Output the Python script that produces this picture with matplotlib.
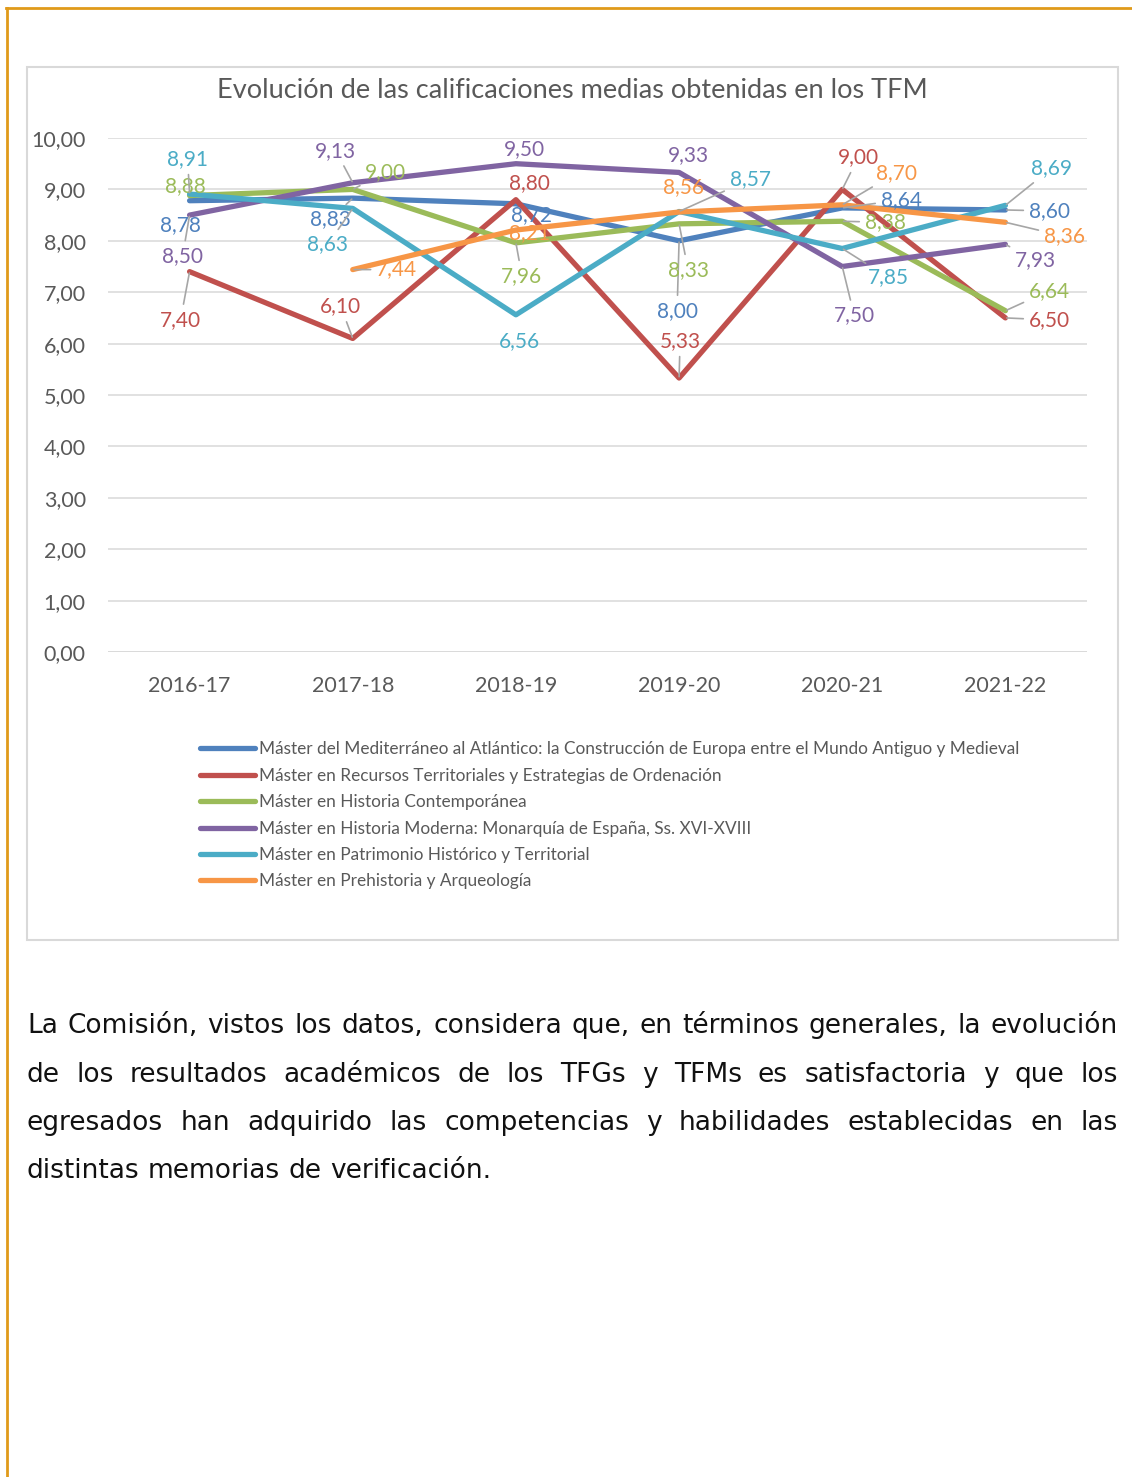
import matplotlib

matplotlib.use("Agg")

import matplotlib.pyplot as plt
import numpy as np
from matplotlib.lines import Line2D
from matplotlib.patches import Rectangle

W, H = 1132, 1477

years = ["2016-17", "2017-18", "2018-19", "2019-20", "2020-21", "2021-22"]

series_names = [
    "Máster del Mediterráneo al Atlántico: la Construcción de Europa entre el Mundo Antiguo y Medieval",
    "Máster en Recursos Territoriales y Estrategias de Ordenación",
    "Máster en Historia Contemporánea",
    "Máster en Historia Moderna: Monarquía de España, Ss. XVI-XVIII",
    "Máster en Patrimonio Histórico y Territorial",
    "Máster en Prehistoria y Arqueología",
]

mediterraneo = [8.78, 8.83, 8.72, 8.00, 8.64, 8.60]
recursos = [7.40, 6.10, 8.80, 5.33, 9.00, 6.50]
contemporanea = [8.88, 9.00, 7.96, 8.33, 8.38, 6.64]
moderna = [8.50, 9.13, 9.50, 9.33, 7.50, 7.93]
patrimonio = [8.91, 8.63, 6.56, 8.57, 7.85, 8.69]
prehistoria = [np.nan, 7.44, 8.21, 8.56, 8.70, 8.36]

all_series = [mediterraneo, recursos, contemporanea, moderna, patrimonio, prehistoria]
colors = ["#4F81BD", "#C0504D", "#9BBB59", "#8064A2", "#4BACC6", "#F79646"]

# label offsets in pixels (dx, dy) relative to each point, as placed in the original chart
label_offsets = [
    [(-9, -24), (-22, -21), (16, -11), (-2, -70), (59, 8), (44, -1)],
    [(-9, -48), (-12, 32), (14, 17), (1, 37), (16, 32), (44, -2)],
    [(-4, 9), (33, 17), (6, -33), (9, -46), (43, -1), (44, 20)],
    [(-7, -41), (-17, 32), (9, 15), (9, 17), (12, -49), (30, -16)],
    [(-2, 35), (-25, -36), (4, -26), (71, 32), (46, -29), (46, 37)],
    [(0, 0), (44, 0), (14, -3), (4, 25), (54, 32), (59, -14)],
]

paragraph = [
    "La Comisión, vistos los datos, considera que, en términos generales, la evolución",
    "de los resultados académicos de los TFGs y TFMs es satisfactoria y que los",
    "egresados han adquirido las competencias y habilidades establecidas en las",
    "distintas memorias de verificación.",
]

grey = "#595959"
chart_font = "Lato"

fig = plt.figure(figsize=(W / 100, H / 100), dpi=100)
fig.patch.set_facecolor("white")


def fx(px):
    return px / W


def fy(py):
    return 1 - py / H


# page border (orange) and chart area border
fig.add_artist(Line2D([fx(6), 1], [fy(8), fy(8)], color="#E09A1A", lw=2))
fig.add_artist(Line2D([fx(6.5), fx(6.5)], [fy(8), 0], color="#E09A1A", lw=2))
fig.add_artist(Rectangle((fx(27), fy(940)), fx(1118) - fx(27), fy(67) - fy(940),
                         transform=fig.transFigure, fill=False, edgecolor="#D9D9D9", lw=1.5))

ax = fig.add_axes([fx(108), fy(652), fx(1087) - fx(108), fy(138) - fy(652)])
x = np.arange(len(years))

for values, color, name in zip(all_series, colors, series_names):
    ax.plot(x, values, color=color, lw=3.8, solid_capstyle="round",
            solid_joinstyle="round", label=name, zorder=3)

for values, color, offsets in zip(all_series, colors, label_offsets):
    for xi, v, (dx, dy) in zip(x, values, offsets):
        if np.isnan(v):
            continue
        txt = f"{v:.2f}".replace(".", ",")
        leader = np.hypot(dx, dy) > 30
        ax.annotate(txt, (xi, v), xytext=(dx, dy), textcoords="offset pixels",
                    ha="center", va="center", color=color, fontsize=15,
                    family=chart_font, zorder=5,
                    arrowprops=dict(arrowstyle="-", color="#A6A6A6", lw=1.2,
                                    shrinkA=2, shrinkB=1) if leader else None)

ax.set_xlim(-0.5, len(years) - 0.5)
ax.set_ylim(0, 10)
ax.set_yticks(np.arange(0, 11, 1))
ax.set_yticklabels([f"{t:.2f}".replace(".", ",") for t in np.arange(0, 11, 1)])
ax.set_xticks(x)
ax.set_xticklabels(years)
ax.tick_params(axis="y", length=0, pad=16, labelsize=15.5, labelcolor=grey)
ax.tick_params(axis="x", length=0, pad=17, labelsize=15.5, labelcolor=grey)
for lab in ax.get_xticklabels() + ax.get_yticklabels():
    lab.set_family(chart_font)
ax.grid(axis="y", color="#D9D9D9", lw=1.1, zorder=0)
ax.set_axisbelow(True)
for spine in ax.spines.values():
    spine.set_visible(False)
ax.axhline(0, color="#D9D9D9", lw=1.1, zorder=1)

fig.text(fx(572), fy(90), "Evolución de las calificaciones medias obtenidas en los TFM",
         ha="center", va="center", fontsize=19.5, color=grey, family=chart_font)

handles, labels = ax.get_legend_handles_labels()
leg = fig.legend(handles, labels, loc="upper left", bbox_to_anchor=(fx(200), fy(741.5)),
                 frameon=False, borderpad=0, borderaxespad=0, handlelength=3.2,
                 handletextpad=0.22, labelspacing=0.6,
                 prop={"family": chart_font, "size": 12.45})
for t in leg.get_texts():
    t.set_color(grey)

# justified paragraph below the chart
renderer = fig.canvas.get_renderer()
left, right = 27, 1118
baselines = [1033, 1081.5, 1130, 1178]
for i, (line, base) in enumerate(zip(paragraph, baselines)):
    words = line.split()
    texts = [fig.text(0, fy(base), w, fontsize=19, family="DejaVu Sans",
                      color="#111111", va="baseline", ha="left") for w in words]
    widths = [t.get_window_extent(renderer).width for t in texts]
    if i < len(paragraph) - 1:
        gap = (right - left - sum(widths)) / (len(words) - 1)
    else:
        sp = fig.text(0, 0, "a a", fontsize=19, family="DejaVu Sans")
        sp2 = fig.text(0, 0, "aa", fontsize=19, family="DejaVu Sans")
        gap = sp.get_window_extent(renderer).width - sp2.get_window_extent(renderer).width
        sp.remove()
        sp2.remove()
    xpos = left
    for t, w in zip(texts, widths):
        t.set_x(fx(xpos))
        xpos += w + gap

fig.savefig("out.png", dpi=100)
plt.close(fig)
